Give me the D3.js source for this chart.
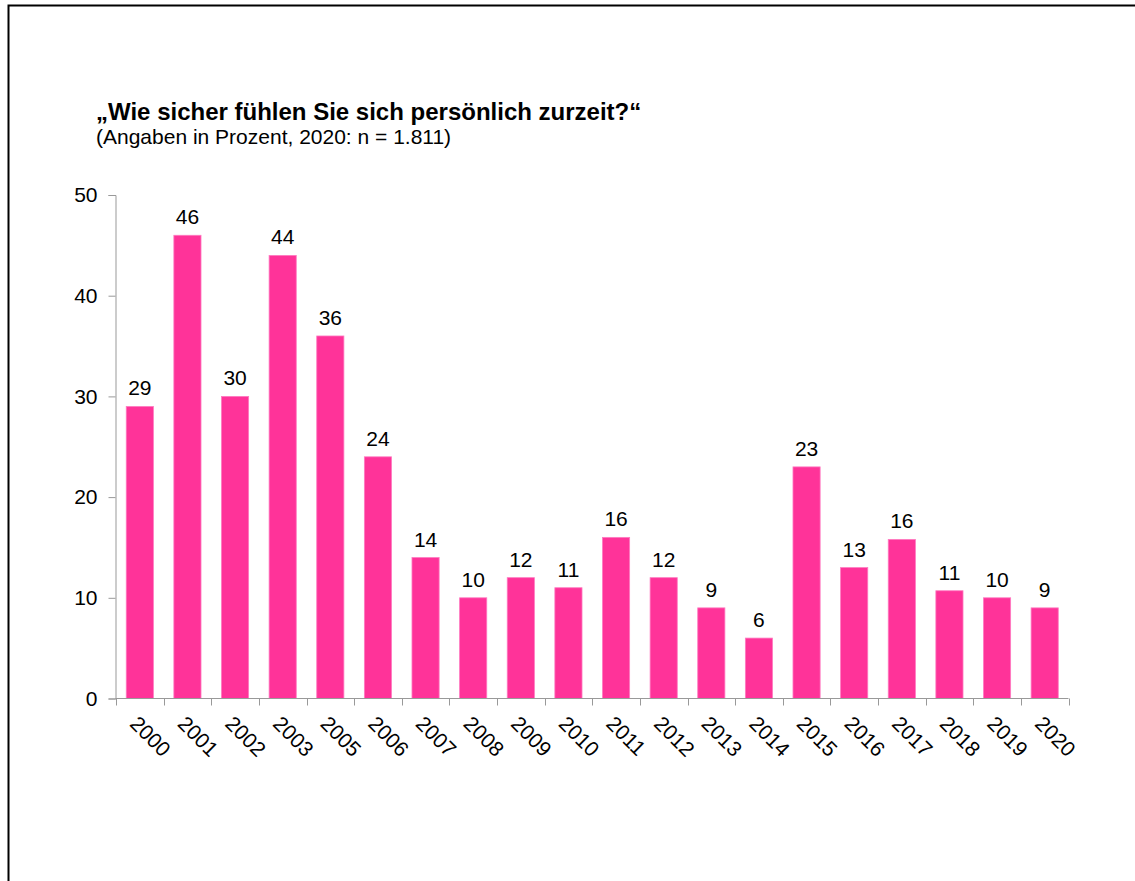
<!DOCTYPE html>
<html><head><meta charset="utf-8">
<script src="https://cdn.jsdelivr.net/npm/d3@7"></script>
<style>
body{margin:0;background:#fff;}
svg text{font-family:"Liberation Sans",Arial,sans-serif;fill:#000;}
</style></head>
<body>
<svg id="chart" width="1135" height="881"></svg>
<script>
const years = ["2000","2001","2002","2003","2005","2006","2007","2008","2009","2010","2011","2012","2013","2014","2015","2016","2017","2018","2019","2020"];
const values = [29,46,30,44,36,24,14,10,12,11,16,12,9,6,23,13,15.8,10.7,10,9];
const valueLabels = ["29","46","30","44","36","24","14","10","12","11","16","12","9","6","23","13","16","11","10","9"];
const yTicks = [0,10,20,30,40,50];
const title = "\u201EWie sicher fühlen Sie sich persönlich zurzeit?\u201C";
const subtitle = "(Angaben in Prozent, 2020: n = 1.811)";

const svg = d3.select("#chart");
// frame
svg.append("path").attr("d","M8.5,900 V5.5 H1140").attr("fill","none").attr("stroke","#000").attr("stroke-width",2);

svg.append("text").attr("x",96).attr("y",120).attr("font-size",24).attr("font-weight","bold").text(title);
svg.append("text").attr("x",96).attr("y",144).attr("font-size",21).text(subtitle);

const x = d3.scaleBand().domain(years).range([116,1068.5]).paddingInner(0.43).paddingOuter(0.215);
const y = d3.scaleLinear().domain([0,50]).range([698.5,195]);

const axisColor = "#999";
const yAxis = svg.append("g").attr("transform","translate(115.5,0)")
  .call(d3.axisLeft(y).tickValues(yTicks).tickSize(7).tickPadding(11).tickFormat(d3.format("d")));
yAxis.selectAll("path,line").attr("stroke",axisColor);
yAxis.selectAll("text").attr("font-size",21).attr("fill","#000").attr("font-family","Liberation Sans, Arial, sans-serif");

svg.selectAll("rect.bar").data(values).join("rect").attr("class","bar")
  .attr("x",(d,i)=>x(years[i])).attr("width",x.bandwidth())
  .attr("y",d=>y(d)).attr("height",d=>y(0)-y(d))
  .attr("fill","#ff3399").attr("stroke","#ff7ac0").attr("stroke-width",0.8);

svg.selectAll("text.val").data(values).join("text").attr("class","val")
  .attr("x",(d,i)=>x(years[i])+x.bandwidth()/2).attr("y",d=>y(d)-11)
  .attr("text-anchor","middle").attr("font-size",21).text((d,i)=>valueLabels[i]);

// x axis
const step = x.step();
const xTickPos = d3.range(years.length+1).map(i=>116+i*step);
const gx = svg.append("g");
gx.append("line").attr("x1",115.5).attr("x2",1068.5).attr("y1",698.5).attr("y2",698.5).attr("stroke",axisColor);
gx.selectAll("line.t").data(xTickPos).join("line").attr("class","t")
  .attr("x1",d=>Math.round(d)+0.5).attr("x2",d=>Math.round(d)+0.5).attr("y1",698.5).attr("y2",705.5).attr("stroke",axisColor);
gx.selectAll("text").data(years).join("text")
  .attr("transform",d=>`translate(${x(d)+x.bandwidth()/2-11},${725}) rotate(45)`)
  .attr("font-size",21).text(d=>d);
</script>
</body></html>
